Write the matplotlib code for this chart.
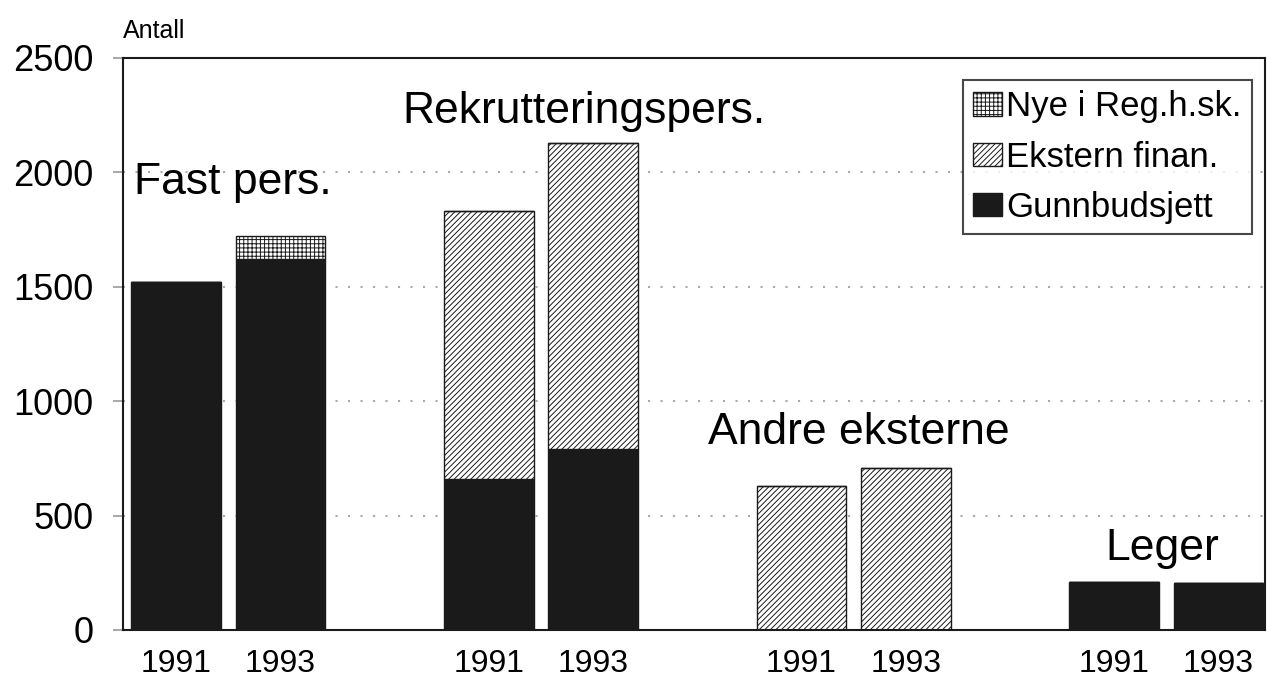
import matplotlib.pyplot as plt
from matplotlib.patches import Patch

plt.rcParams['font.family'] = ['Liberation Sans', 'DejaVu Sans']
plt.rcParams['hatch.linewidth'] = 0.7

# data
groups = ['Fast pers.', 'Rekrutteringspers.', 'Andre eksterne', 'Leger']
years = ['1991', '1993'] * 4
gunnbudsjett = [1520, 1620, 660, 790, 0, 0, 210, 205]
ekstern = [0, 0, 1170, 1340, 630, 710, 0, 0]
nye = [0, 100, 0, 0, 0, 0, 0, 0]
pos = [0, 1, 3, 4, 6, 7, 9, 10]

fig = plt.figure(figsize=(12.68, 6.83), dpi=100)
ax = fig.add_axes([0.097, 0.0776, 0.901, 0.8375])

dark = '#1a1a1a'
w = 0.86
ax.bar(pos, gunnbudsjett, width=w, color=dark, edgecolor=dark, zorder=2)
base2 = [g for g in gunnbudsjett]
ax.bar(pos, ekstern, width=w, bottom=base2, color='white', edgecolor=dark,
       hatch='//////', linewidth=1, zorder=2)
base3 = [g + e for g, e in zip(gunnbudsjett, ekstern)]
ax.bar(pos, nye, width=w, bottom=base3, color='white', edgecolor=dark,
       hatch='++++', linewidth=1, zorder=2)

ax.set_xlim(-0.51, 10.45)
ax.set_ylim(0, 2500)
ax.set_yticks([0, 500, 1000, 1500, 2000, 2500])
ax.set_xticks(pos)
ax.set_xticklabels(years)
ax.tick_params(axis='y', labelsize=26, length=7, width=1.2, color='#999999', pad=14)
ax.tick_params(axis='x', labelsize=23, length=0, pad=14)

for y in [500, 1000, 1500, 2000]:
    ax.axhline(y, color='#aaaaaa', linestyle=(0, (1, 5)), linewidth=1.5, zorder=1)

for s in ax.spines.values():
    s.set_color(dark)
    s.set_linewidth(1.5)

# group labels
ax.text(0.54, 1954, groups[0], fontsize=32, ha='center', va='center')
ax.text(3.91, 2264, groups[1], fontsize=32, ha='center', va='center')
ax.text(6.55, 861, groups[2], fontsize=32, ha='center', va='center')
ax.text(9.46, 358, groups[3], fontsize=32, ha='center', va='center')

fig.text(0.097, 0.955, 'Antall', fontsize=18, ha='left', va='center')

handles = [
    Patch(facecolor='white', edgecolor=dark, hatch='++++', label='Nye i Reg.h.sk.'),
    Patch(facecolor='white', edgecolor=dark, hatch='//////', label='Ekstern finan.'),
    Patch(facecolor=dark, edgecolor=dark, label='Gunnbudsjett'),
]
leg = ax.legend(handles=handles, loc='upper right', bbox_to_anchor=(0.988, 0.962),
                fontsize=25, frameon=True, fancybox=False, handlelength=0.85,
                handleheight=0.65, handletextpad=0.1, borderpad=0.3,
                labelspacing=0.5, borderaxespad=0)
leg.get_frame().set_edgecolor(dark)
leg.get_frame().set_linewidth(1.5)

fig.savefig('out.png', dpi=100)
